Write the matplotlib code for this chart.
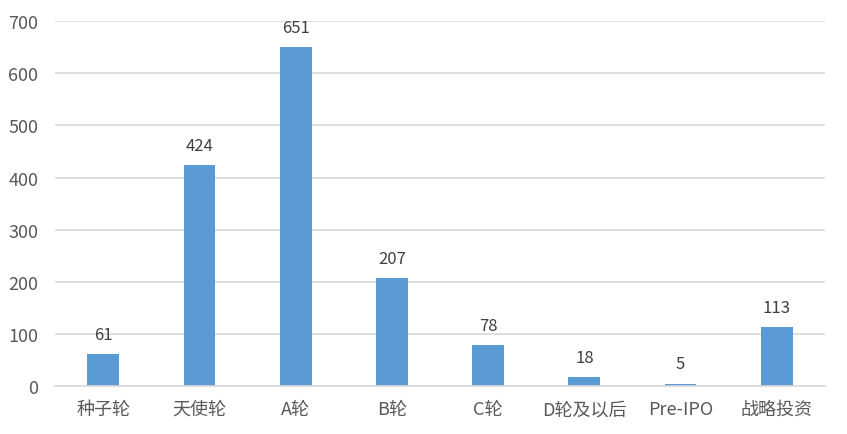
import matplotlib
matplotlib.use('Agg')
from matplotlib import pyplot as plt

plt.rcParams['font.family'] = ['Noto Sans CJK SC', 'DejaVu Sans']

categories = ['种子轮', '天使轮', 'A轮', 'B轮', 'C轮', 'D轮及以后', 'Pre-IPO', '战略投资']
counts = [61, 424, 651, 207, 78, 18, 5, 113]


def main():
    fig = plt.figure(figsize=(8.47, 4.35), dpi=100)
    ax = fig.add_axes([0.065, 0.110, 0.909, 0.839])

    x = range(len(categories))
    bars = ax.bar(x, counts, width=0.33, color='#5B9BD5', zorder=2)

    for b, v in zip(bars, counts):
        ax.annotate(str(v), (b.get_x() + b.get_width() / 2, v),
                    xytext=(0, 8), textcoords='offset points',
                    ha='center', va='bottom', fontsize=12, color='#404040')

    ax.set_xlim(-0.5, len(categories) - 0.5)
    ax.set_ylim(0, 700)
    ax.set_yticks(range(0, 701, 100))
    ax.set_xticks(list(x))
    ax.set_xticklabels(categories)
    ax.yaxis.grid(True, color='#d9d9d9', linewidth=1.2, zorder=0)
    ax.set_axisbelow(True)

    for s in ['top', 'right', 'left']:
        ax.spines[s].set_visible(False)
    ax.spines['bottom'].set_color('#d9d9d9')
    ax.spines['bottom'].set_linewidth(1.2)
    ax.tick_params(axis='both', length=0, labelsize=13, colors='#595959')
    ax.tick_params(axis='x', pad=10)
    ax.tick_params(axis='y', pad=12)

    fig.savefig('out.png', dpi=100)


if __name__ == '__main__':
    main()
